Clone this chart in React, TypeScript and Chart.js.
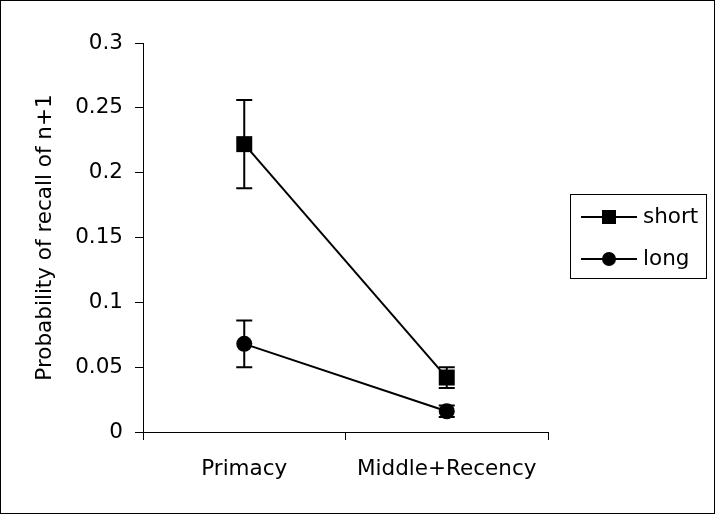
import React, { useEffect, useRef } from 'react';
import { Chart, registerables } from 'chart.js';

Chart.register(...registerables);

const categories = ['Primacy', 'Middle+Recency'];
const shortValues = [0.222, 0.042];
const shortErrors = [0.034, 0.008];
const longValues = [0.068, 0.016];
const longErrors = [0.018, 0.0045];
const yTickLabels = ['0', '0.05', '0.1', '0.15', '0.2', '0.25', '0.3'];
const yTitle = 'Probability of recall of n+1';
const seriesNames = ['short', 'long'];

const FONT = "'DejaVu Sans', sans-serif";
const FONT_SIZE = 21.5;

const errorBarsPlugin = {
  id: 'errorBars',
  afterDatasetsDraw(chart: any) {
    const ctx = chart.ctx;
    const ys = chart.scales.y;
    chart.data.datasets.forEach((ds: any, di: number) => {
      const meta = chart.getDatasetMeta(di);
      meta.data.forEach((pt: any, i: number) => {
        const v = ds.data[i];
        const e = ds.errors[i];
        const x = pt.x;
        const yTop = ys.getPixelForValue(v + e);
        const yBot = ys.getPixelForValue(v - e);
        ctx.save();
        ctx.strokeStyle = '#000';
        ctx.lineWidth = 2;
        ctx.beginPath();
        ctx.moveTo(x, yTop);
        ctx.lineTo(x, yBot);
        ctx.moveTo(x - 8, yTop);
        ctx.lineTo(x + 8, yTop);
        ctx.moveTo(x - 8, yBot);
        ctx.lineTo(x + 8, yBot);
        ctx.stroke();
        ctx.restore();
      });
    });
  },
};

const framePlugin = {
  id: 'frameAndLegend',
  afterDraw(chart: any) {
    const ctx = chart.ctx;
    ctx.save();
    // outer frame
    ctx.strokeStyle = '#000';
    ctx.lineWidth = 1;
    ctx.strokeRect(0.5, 0.5, chart.width - 1, chart.height - 1);
    // legend box
    const bx = 570.5, by = 194.5, bw = 136, bh = 84;
    ctx.strokeRect(bx, by, bw, bh);
    const rows = [217, 259];
    chart.data.datasets.forEach((ds: any, i: number) => {
      const yy = rows[i];
      ctx.strokeStyle = '#000';
      ctx.lineWidth = 2;
      ctx.beginPath();
      ctx.moveTo(581, yy);
      ctx.lineTo(637, yy);
      ctx.stroke();
      ctx.fillStyle = '#000';
      if (ds.pointStyle === 'rect') {
        ctx.fillRect(602, yy - 7, 14, 14);
      } else {
        ctx.beginPath();
        ctx.arc(609, yy, 7, 0, Math.PI * 2);
        ctx.fill();
      }
      ctx.font = `${FONT_SIZE}px ${FONT}`;
      ctx.textAlign = 'left';
      ctx.textBaseline = 'middle';
      ctx.fillText(ds.label, 643, yy);
    });
    ctx.restore();
  },
};

export default function App() {
  const ref = useRef<HTMLCanvasElement | null>(null);
  useEffect(() => {
    if (!ref.current) return;
    const chart = new Chart(ref.current, {
      type: 'line',
      data: {
        labels: categories,
        datasets: [
          {
            label: seriesNames[0],
            data: shortValues,
            errors: shortErrors,
            borderColor: '#000',
            backgroundColor: '#000',
            borderWidth: 2,
            pointStyle: 'rect',
            pointRadius: 11.3,
            pointBorderWidth: 0,
            clip: false,
          } as any,
          {
            label: seriesNames[1],
            data: longValues,
            errors: longErrors,
            borderColor: '#000',
            backgroundColor: '#000',
            borderWidth: 2,
            pointStyle: 'circle',
            pointRadius: 8,
            pointBorderWidth: 0,
            clip: false,
          } as any,
        ],
      },
      options: {
        responsive: false,
        animation: false,
        layout: { padding: { left: 0, right: 167, top: 43, bottom: 0 } },
        plugins: {
          legend: { display: false },
          tooltip: { enabled: false },
        },
        scales: {
          x: {
            offset: true,
            grid: {
              offset: true,
              drawOnChartArea: false,
              drawTicks: true,
              tickLength: 8,
              color: '#000',
            },
            border: { display: true, color: '#000', width: 1 },
            ticks: {
              color: '#000',
              padding: 17,
              font: { family: FONT, size: FONT_SIZE },
              maxRotation: 0,
            },
            afterFit: (s: any) => {
              s.height = 82;
            },
          },
          y: {
            min: 0,
            max: 0.3,
            grid: {
              drawOnChartArea: false,
              drawTicks: true,
              tickLength: 8,
              color: '#000',
            },
            border: { display: true, color: '#000', width: 1 },
            ticks: {
              stepSize: 0.05,
              color: '#000',
              padding: 12,
              font: { family: FONT, size: FONT_SIZE },
              callback: (_v: any, i: number) => yTickLabels[i],
            },
            title: {
              display: true,
              text: yTitle,
              color: '#000',
              font: { family: FONT, size: FONT_SIZE },
              padding: { top: 33, bottom: 0 },
            },
            afterFit: (s: any) => {
              s.width = 143;
            },
          },
        },
      },
      plugins: [errorBarsPlugin, framePlugin],
    });
    return () => chart.destroy();
  }, []);
  return (
    <div style={{ position: 'fixed', left: 0, top: 0, width: 715, height: 514, background: '#fff' }}>
      <canvas ref={ref} width={715} height={514} style={{ display: 'block' }} />
    </div>
  );
}
